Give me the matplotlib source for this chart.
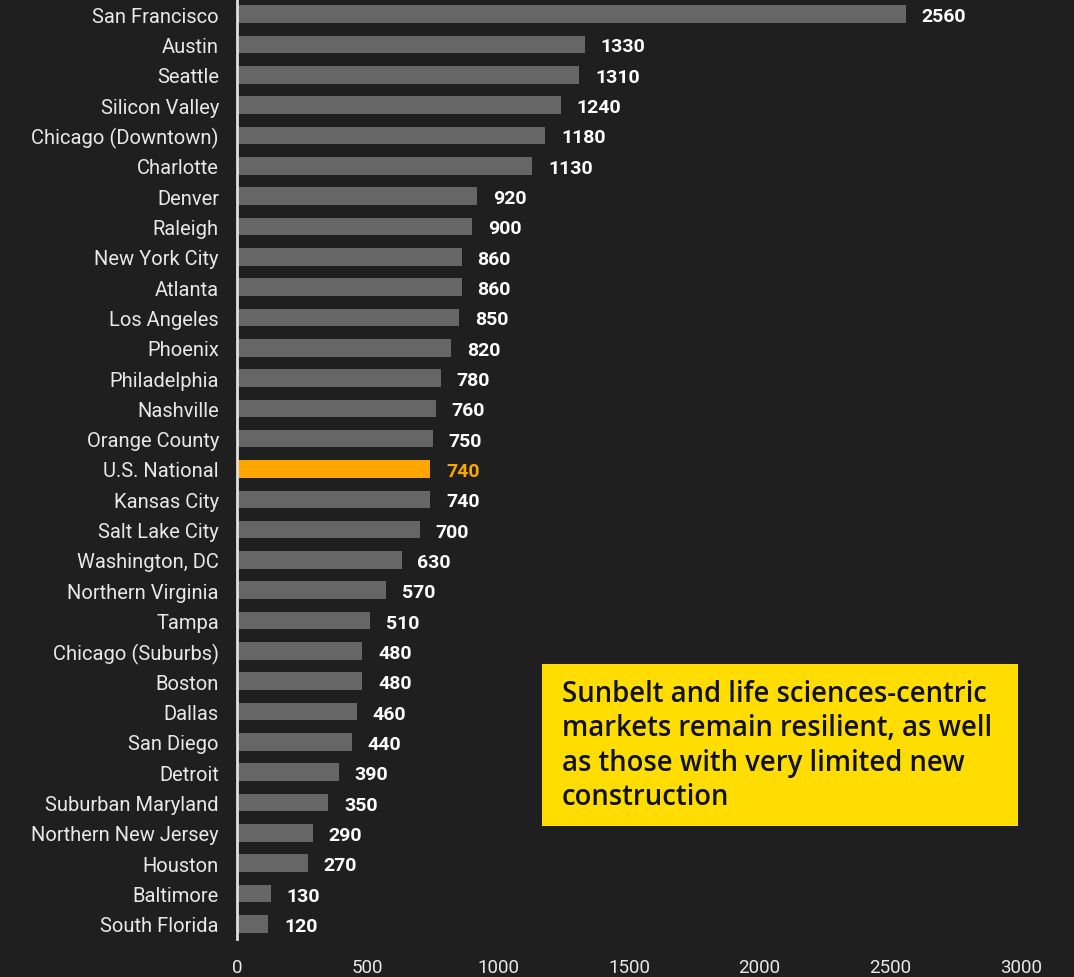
import matplotlib
matplotlib.use("Agg")
import matplotlib.pyplot as plt
from matplotlib.patches import Rectangle

markets = ["San Francisco", "Austin", "Seattle", "Silicon Valley", "Chicago (Downtown)",
           "Charlotte", "Denver", "Raleigh", "New York City", "Atlanta", "Los Angeles",
           "Phoenix", "Philadelphia", "Nashville", "Orange County", "U.S. National",
           "Kansas City", "Salt Lake City", "Washington, DC", "Northern Virginia", "Tampa",
           "Chicago (Suburbs)", "Boston", "Dallas", "San Diego", "Detroit",
           "Suburban Maryland", "Northern New Jersey", "Houston", "Baltimore", "South Florida"]
values = [2560, 1330, 1310, 1240, 1180, 1130, 920, 900, 860, 860, 850, 820, 780, 760, 750,
          740, 740, 700, 630, 570, 510, 480, 480, 460, 440, 390, 350, 290, 270, 130, 120]
highlight = "U.S. National"
x_ticks = [0, 500, 1000, 1500, 2000, 2500, 3000]
note = ("Sunbelt and life sciences-centric\nmarkets remain resilient, as well\n"
        "as those with very limited new\nconstruction")

BG = "#1f1f1f"
BAR = "#666666"
ORANGE = "#FFA500"
YELLOW = "#FFDD00"

plt.rcParams["font.family"] = ["Roboto", "DejaVu Sans"]

fig = plt.figure(figsize=(10.74, 9.78), dpi=100, facecolor=BG)
ax = fig.add_axes([237 / 1074, 38 / 978, (1021 - 237) / 1074, 940 / 978])
ax.set_facecolor(BG)

n = len(markets)
ypos = list(range(n))
colors = [ORANGE if m == highlight else BAR for m in markets]
ax.barh(ypos, values, height=0.58, color=colors, zorder=2)

for y, v, m in zip(ypos, values, markets):
    ax.text(v + 60, y, f"{v}", va="center_baseline", ha="left", fontsize=14,
            fontweight="bold", color=ORANGE if m == highlight else "white")

ax.set_ylim(n - 0.5, -0.5)
ax.set_xlim(0, 3000)
ax.set_yticks(ypos)
ax.set_yticklabels(markets, fontsize=14.5, color="#e8e8e8")
ax.set_xticks(x_ticks)
ax.set_xticklabels([str(t) for t in x_ticks], fontsize=13.5, color="#e8e8e8")
ax.tick_params(axis="y", length=0, pad=13)
ax.tick_params(axis="x", length=0, pad=14)

for s in ["top", "right", "bottom"]:
    ax.spines[s].set_visible(False)
ax.spines["left"].set_color("#e0e0e0")
ax.spines["left"].set_linewidth(2)

# annotation box
bx0, by0, bx1, by1 = 542 / 1074, 1 - 827 / 978, 1018 / 1074, 1 - 665 / 978
fig.patches.append(Rectangle((bx0, by0), bx1 - bx0, by1 - by0, transform=fig.transFigure,
                             facecolor=YELLOW, edgecolor="none", zorder=5))
fig.text(562 / 1074, (by0 + by1) / 2, note, ha="left", va="center", fontsize=19.8,
         family=["Open Sans", "DejaVu Sans"], fontweight="semibold", color="#111111",
         linespacing=1.23, zorder=6)

fig.savefig("out.png", dpi=100, facecolor=BG)
